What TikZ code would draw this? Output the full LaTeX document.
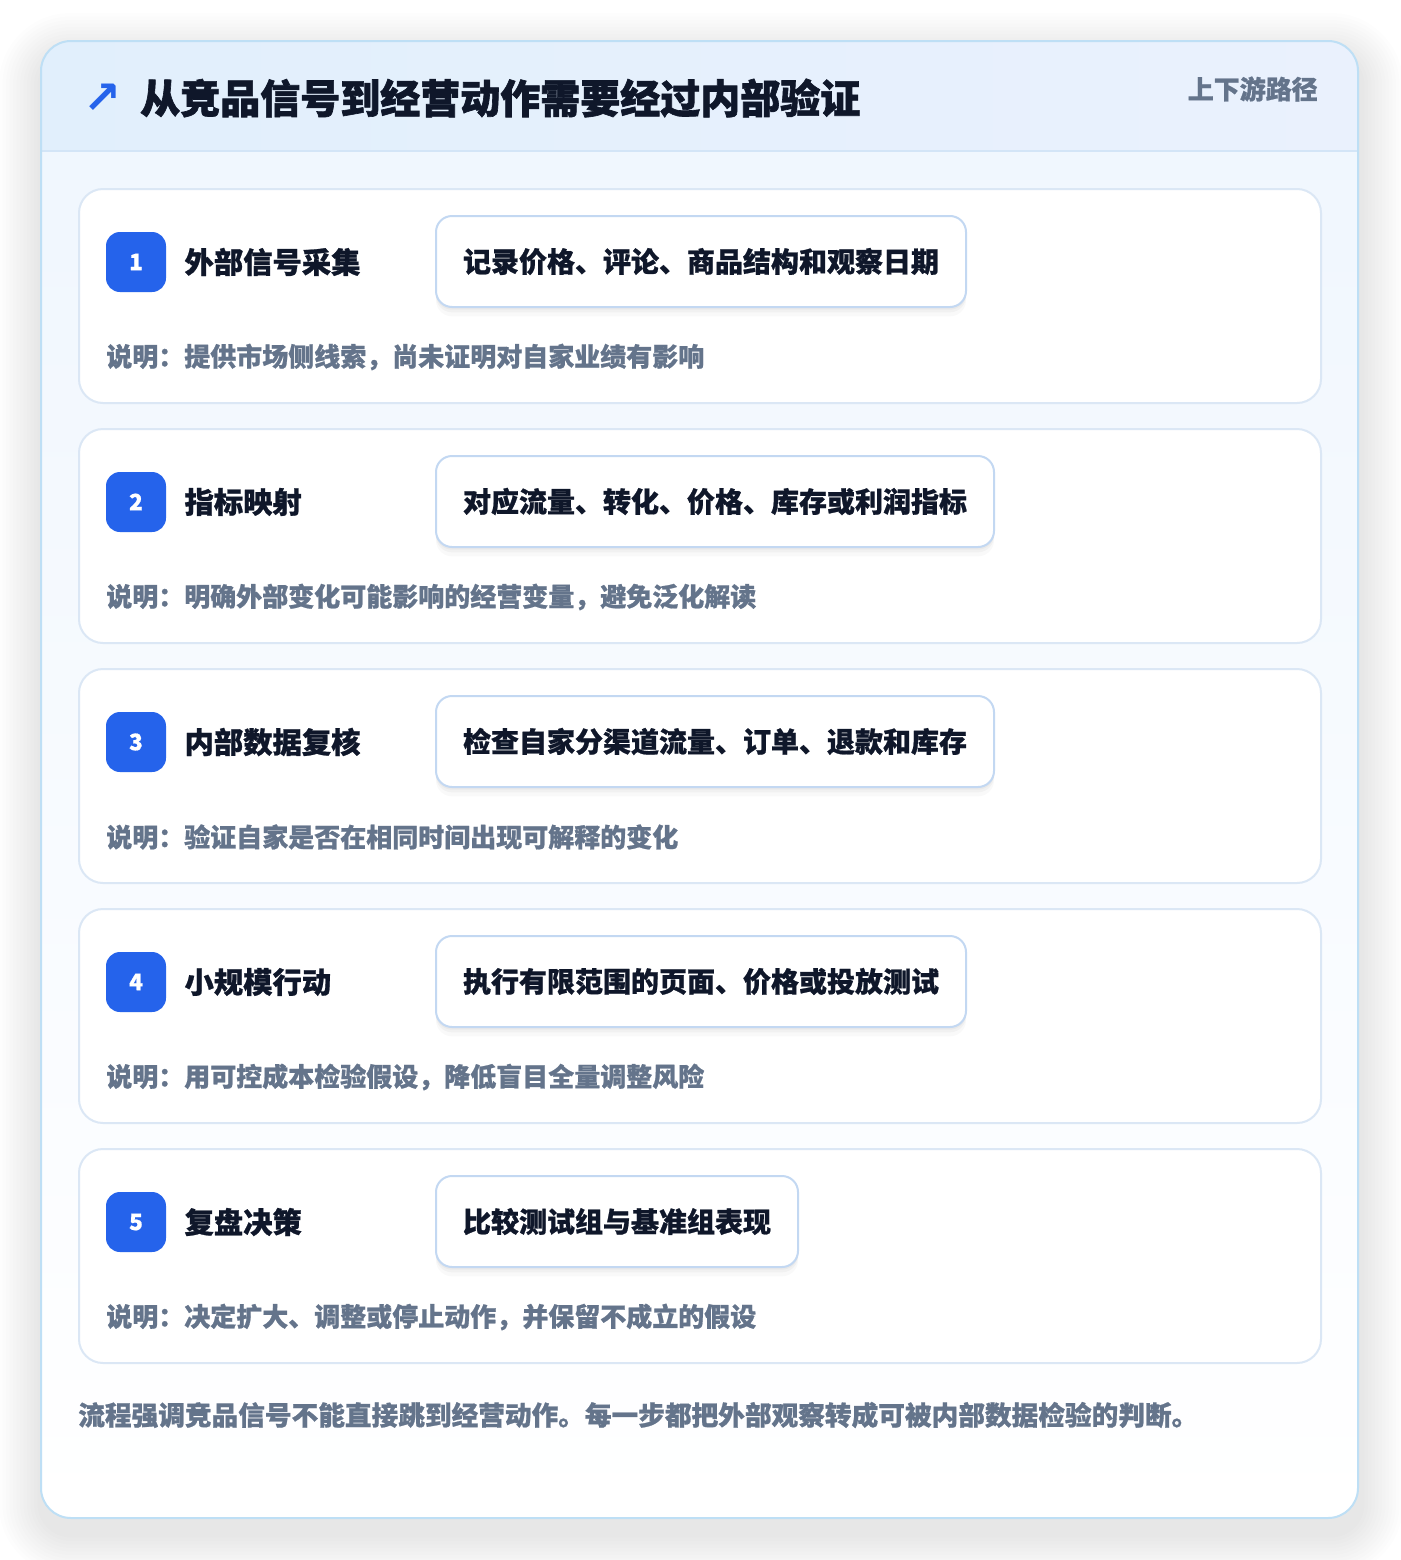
\documentclass[tikz,border=0pt]{standalone}
\usepackage{fontspec}
\setmainfont{Noto Sans CJK SC}[BoldFeatures={FakeBold=0.8}]
\newfontfamily\heavyfont{Noto Sans CJK SC}[BoldFeatures={FakeBold=1.6}]
\newfontfamily\symfont{DejaVu Sans}
\usetikzlibrary{positioning}

\definecolor{accent}{HTML}{2563EB}
\definecolor{ink}{HTML}{0F172A}
\definecolor{muted}{HTML}{64748B}
\definecolor{cardline}{HTML}{DBE7F5}
\definecolor{actline}{HTML}{C3D8F2}
\definecolor{panelline}{HTML}{BEDFF5}
\definecolor{panelTop}{HTML}{EFF6FE}
\definecolor{headA}{HTML}{E1EFFC}
\definecolor{headB}{HTML}{EAF1FD}
\definecolor{headline}{HTML}{D3E5F7}

\tikzset{
  card/.style={draw=cardline, fill=white, line width=1.5pt, rounded corners=18pt,
    minimum width=931.5pt, minimum height=160.5pt, inner sep=0pt},
  badge/.style={fill=accent, text=white, rounded corners=10.5pt, minimum size=45pt,
    inner sep=0pt, font=\fontsize{17}{18}\selectfont\bfseries},
  steplabel/.style={inner sep=0pt, anchor=west, text=ink,
    font=\fontsize{22}{24}\selectfont\bfseries},
  softshadow/.style={
    preaction={fill=black, opacity=.025, transform canvas={yshift=-7pt}},
    preaction={fill=black, opacity=.03, transform canvas={yshift=-4pt}},
    preaction={fill=black, opacity=.03, transform canvas={yshift=-2pt}}},
  action/.style={draw=actline, fill=white, line width=1.5pt, rounded corners=12pt,
    minimum height=68.25pt, inner xsep=20.25pt, anchor=west, text=ink,
    font=\fontsize{21}{23}\selectfont\bfseries, softshadow},
  note/.style={inner sep=0pt, anchor=west, text=muted,
    font=\fontsize{19.5}{21}\selectfont\bfseries},
}

\begin{document}
\begin{tikzpicture}[x=0.75pt, y=-0.75pt]
\useasboundingbox[fill=white] (0,0) rectangle (1400,1560);

% outer panel, soft shadow in layers
\foreach \k in {1,...,12}
  \fill[black, opacity=.0065, rounded corners=22.5pt+2.6pt*\k]
    (41-3.5*\k,55-3.5*\k) rectangle (1361+3.5*\k,1534+3.5*\k);
\shade[rounded corners=22.5pt, top color=panelTop, bottom color=white] (41,41) rectangle (1358,1518);
\begin{scope}
  \clip[rounded corners=22.5pt] (41,41) rectangle (1358,1518);
  \shade[left color=headA, right color=headB] (41,41) rectangle (1358,151);
  \draw[headline, line width=1.5pt] (41,151) -- (1358,151);
\end{scope}
\draw[panelline, line width=1.5pt, rounded corners=22.5pt] (41,41) rectangle (1358,1518);

% header
\node[text=accent, inner sep=0pt, font=\symfont\bfseries\fontsize{34}{36}\selectfont] (icon) at (102,99) {↗};
\node[inner sep=0pt, anchor=west, text=ink, font=\heavyfont\fontsize{30}{32}\selectfont\bfseries] (title) at (140,98)
  {从竞品信号到经营动作需要经过内部验证};
\node[inner sep=0pt, anchor=east, text=muted, font=\fontsize{19.5}{21}\selectfont\bfseries] (route) at (1318,89)
  {上下游路径};

% step 1
\node[card] (card1) at (700,296) {};
\node[badge] (badge1) at (136,262) {1};
\node[steplabel, right=13.5pt of badge1] (label1) {外部信号采集};
\node[action] (act1) at (435,261.5) {记录价格、评论、商品结构和观察日期};
\node[note] (note1) at (106,357) {说明：提供市场侧线索，尚未证明对自家业绩有影响};

% step 2
\node[card] (card2) at (700,536) {};
\node[badge] (badge2) at (136,502) {2};
\node[steplabel, right=13.5pt of badge2] (label2) {指标映射};
\node[action] (act2) at (435,501.5) {对应流量、转化、价格、库存或利润指标};
\node[note] (note2) at (106,597) {说明：明确外部变化可能影响的经营变量，避免泛化解读};

% step 3
\node[card] (card3) at (700,776) {};
\node[badge] (badge3) at (136,742) {3};
\node[steplabel, right=13.5pt of badge3] (label3) {内部数据复核};
\node[action] (act3) at (435,741.5) {检查自家分渠道流量、订单、退款和库存};
\node[note] (note3) at (106,837) {说明：验证自家是否在相同时间出现可解释的变化};

% step 4
\node[card] (card4) at (700,1016) {};
\node[badge] (badge4) at (136,982) {4};
\node[steplabel, right=13.5pt of badge4] (label4) {小规模行动};
\node[action] (act4) at (435,981.5) {执行有限范围的页面、价格或投放测试};
\node[note] (note4) at (106,1077) {说明：用可控成本检验假设，降低盲目全量调整风险};

% step 5
\node[card] (card5) at (700,1256) {};
\node[badge] (badge5) at (136,1222) {5};
\node[steplabel, right=13.5pt of badge5] (label5) {复盘决策};
\node[action] (act5) at (435,1221.5) {比较测试组与基准组表现};
\node[note] (note5) at (106,1317) {说明：决定扩大、调整或停止动作，并保留不成立的假设};

% summary
\node[note, font=\fontsize{20}{22}\selectfont\bfseries] (summary) at (78,1415)
  {流程强调竞品信号不能直接跳到经营动作。每一步都把外部观察转成可被内部数据检验的判断。};
\end{tikzpicture}
\end{document}
